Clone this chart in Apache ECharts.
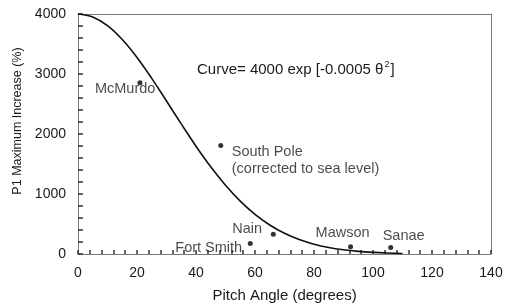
<!DOCTYPE html>
<html>
<head>
<meta charset="utf-8">
<script src="https://cdn.jsdelivr.net/npm/echarts@6/dist/echarts.min.js"></script>
<style>html,body{margin:0;padding:0;background:#fff}#c{width:506px;height:308px}</style>
</head>
<body>
<div id="c"></div>
<script>
// Stations (observed points)
var stationNames = ['McMurdo', 'South Pole\n(corrected to sea level)', 'Nain', 'Fort Smith', 'Mawson', 'Sanae'];
var stationPitch = [21, 48.4, 66.2, 58.4, 92.4, 106];
var stationIncrease = [2855, 1810, 330, 175, 122, 110];

// Fitted curve (pitch angle, % increase)
var curvePitch = [0, 5, 10, 15, 20, 25, 30, 35, 40, 45, 50, 55, 60, 65, 70, 75, 80, 85, 90, 95, 100, 105, 110];
var curveIncrease = [4000, 3950, 3805, 3574, 3275, 2927, 2550, 2168, 1797, 1453, 1146, 882, 661, 484, 345, 240, 163, 108, 70, 44, 27, 16, 9];

// Axis tick labels
var xTicks = [0, 20, 40, 60, 80, 100, 120, 140];
var yTicks = [0, 1000, 2000, 3000, 4000];

var FONT = 'Liberation Sans, Arial, sans-serif';
var TXT = '#1a1a1a';
var AX = '#7a7a7a';
var TK = '#333333';

// label layout per station: [offsetX to text left edge, offsetY to text middle]
var labelLayout = {
  'McMurdo': [-45, 6],
  'South Pole\n(corrected to sea level)': [11, 15],
  'Nain': [-41, -5],
  'Fort Smith': [-75, 4],
  'Mawson': [-35, -14],
  'Sanae': [-8, -11]
};

var scatterData = stationNames.map(function (n, i) {
  var off = labelLayout[n];
  return {
    name: n,
    value: [stationPitch[i], stationIncrease[i]],
    label: {
      show: true, formatter: n, position: 'inside', align: 'left', verticalAlign: 'middle',
      offset: off, color: TXT, fontFamily: FONT, fontSize: 14.5, lineHeight: 17
    }
  };
});
var curveData = curvePitch.map(function (x, i) { return [x, curveIncrease[i]]; });

var xMin = xTicks[0], xMax = xTicks[xTicks.length - 1];
var yMin = yTicks[0], yMax = yTicks[yTicks.length - 1];

function tickSet(len) {
  return {
    axisTick: { show: true, inside: true, length: len, lineStyle: { color: TK, width: 1.5 } },
    minorTick: { show: true, splitNumber: 5, length: len, lineStyle: { color: TK, width: 1.5 } }
  };
}

var chart = echarts.init(document.getElementById('c'), null, { renderer: 'canvas' });
chart.setOption({
  animation: false,
  backgroundColor: '#fff',
  grid: { left: 78, right: 15, top: 14, bottom: 51 },
  xAxis: [Object.assign({
    type: 'value', min: xMin, max: xMax, interval: 20,
    name: 'Pitch Angle (degrees)', nameLocation: 'middle', nameGap: 34,
    nameTextStyle: { color: TXT, fontFamily: FONT, fontSize: 15 },
    axisLine: { show: true, onZero: false, lineStyle: { color: AX, width: 1 } },
    splitLine: { show: false },
    axisLabel: { color: TXT, fontFamily: FONT, fontSize: 14, margin: 12,
      formatter: function (v) { return String(v); } }
  }, tickSet(4)), {
    type: 'value', position: 'top', min: xMin, max: xMax,
    axisLine: { show: true, onZero: false, lineStyle: { color: AX, width: 1 } },
    axisTick: { show: false }, minorTick: { show: false }, axisLabel: { show: false }, splitLine: { show: false }
  }],
  yAxis: [Object.assign({
    type: 'value', min: yMin, max: yMax, interval: 1000,
    name: 'P1 Maximum Increase (%)', nameLocation: 'middle', nameGap: 54,
    nameTextStyle: { color: TXT, fontFamily: FONT, fontSize: 12.5, padding: [0, 0, 0, 26] },
    axisLine: { show: true, onZero: false, lineStyle: { color: AX, width: 1 } },
    splitLine: { show: false },
    axisLabel: { color: TXT, fontFamily: FONT, fontSize: 14, margin: 12,
      formatter: function (v) { return String(v); } }
  }, tickSet(5)), {
    type: 'value', position: 'right', min: yMin, max: yMax,
    axisLine: { show: true, onZero: false, lineStyle: { color: AX, width: 1 } },
    axisTick: { show: false }, minorTick: { show: false }, axisLabel: { show: false }, splitLine: { show: false }
  }],
  graphic: [{
    type: 'text', left: 197, top: 60, silent: true,
    style: {
      text: '{a|Curve= 4000 exp [-0.0005 θ}{s|2}{a|]}',
      rich: {
        a: { fontFamily: FONT, fontSize: 15, fill: TXT, verticalAlign: 'bottom', lineHeight: 17 },
        s: { fontFamily: FONT, fontSize: 9, fill: TXT, verticalAlign: 'top', lineHeight: 17, padding: [0, 1, 8, 1] }
      }
    }
  }],
  series: [{
    type: 'line', data: curveData, smooth: 0.4, showSymbol: false, symbol: 'none',
    lineStyle: { color: '#111', width: 1.6 }, z: 2
  }, {
    type: 'scatter', data: scatterData, symbol: 'circle', symbolSize: 5,
    itemStyle: { color: '#000' }, z: 3
  }]
});
</script>
</body>
</html>
